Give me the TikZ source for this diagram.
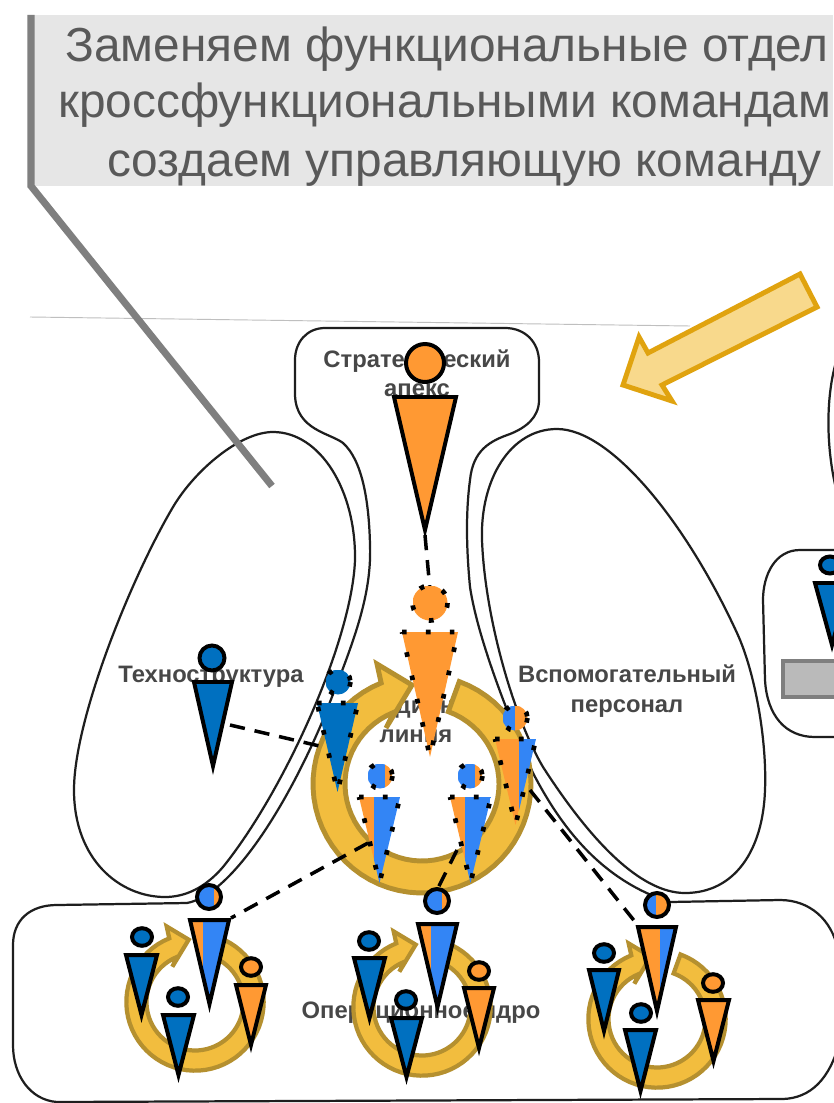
\documentclass[tikz,border=0pt]{standalone}
\usepackage{fontspec}
\setmainfont{Liberation Sans}
\usepackage{tikz}
\usetikzlibrary{arrows.meta,positioning,calc}
\usepackage{xcolor}
\definecolor{personorange}{RGB}{255,153,51}
\definecolor{personblue}{RGB}{0,112,192}
\definecolor{mixblue}{RGB}{51,133,245}
\definecolor{ringfill}{RGB}{242,189,62}
\definecolor{ringline}{RGB}{181,144,47}
\definecolor{hintfill}{RGB}{248,217,140}
\definecolor{hintline}{RGB}{224,163,15}
\definecolor{calloutgray}{RGB}{127,127,127}
\definecolor{calloutfill}{RGB}{230,230,230}
\definecolor{callouttext}{RGB}{89,89,89}
\definecolor{inkline}{RGB}{30,30,30}

\newcommand{\bodyfig}[9]{%
  \coordinate (#1-l) at (#2,#4);
  \coordinate (#1-r) at (#3,#4);
  \coordinate (#1-t) at ({(#2+#3)/2},#5);
  \begin{scope}
    \clip (#1-l) -- (#1-r) -- (#1-t) -- cycle;
    \fill[#7] (#2,#4) rectangle (#6,#5);
    \fill[#8] (#6,#4) rectangle (#3,#5);
  \end{scope}
  \draw[#9] (#1-l) -- (#1-r) -- (#1-t) -- cycle;
}
\newcommand{\headfig}[9]{%
  \coordinate (#1) at (#2,#3);
  \begin{scope}
    \clip (#1) ellipse [x radius=#4, y radius=#5];
    \fill[#7] (#2-#4,#3-#5) rectangle (#6,#3+#5);
    \fill[#8] (#6,#3-#5) rectangle (#2+#4,#3+#5);
  \end{scope}
  \draw[#9] (#1) ellipse [x radius=#4, y radius=#5];
}
\newcommand{\cyclering}[4]{%
  \begin{scope}[shift={(#1,#2)}, scale=#3]
    \draw[cyclearrow, line width=#4]
      plot[domain=-70:248, samples=60] (\x:109)
      -- (-45,-120) -- (-10,-99) -- (-36,-56) -- (-29,-70)
      -- plot[domain=248:-70, samples=60] (\x:77) -- cycle;
  \end{scope}
}

\begin{document}
\begin{tikzpicture}[
    x=0.03cm, y=-0.03cm,
    outline/.style={draw=inkline, line width=1.9pt},
    schemalabel/.style={font=\bfseries\fontsize{20.3}{25}\selectfont, text=black!72, align=center},
    calloutline/.style={font=\fontsize{40.8}{48}\selectfont, text=callouttext, anchor=base west, inner sep=0pt},
    cyclearrow/.style={fill=ringfill, draw=ringline, line join=miter},
    solidfig/.style={draw=black, line width=3.4pt},
    dotfig/.style={draw=black, line width=4pt, dash pattern=on 4pt off 16.4pt},
    linkline/.style={draw=black, line width=3pt, dash pattern=on 13pt off 8.5pt}
]
\useasboundingbox (0,0) rectangle (833,1103);
\fill[white] (0,0) rectangle (833,1103);

% Callout
\fill[calloutfill] (34,15) rectangle (833,186);
\coordinate (calltop) at (31,15);
\coordinate (callbend) at (31,186);
\coordinate (callend) at (272,486);
\node[calloutline] (call1) at (65,62) {Заменяем функциональные отдел};
\node[calloutline] (call2) at (58,118) {кроссфункциональными командам};
\node[calloutline] (call3) at (107,177) {создаем управляющую команду};

% Scanned scheme
\draw[black!25, line width=0.8pt] (30,317) -- (690,326);
\draw[outline] (325,328) -- (505,328) .. controls (525,328) and (539,342) .. (539,362)
  -- (539,400) .. controls (539,418) and (525,428) .. (510,434)
  .. controls (490,441) and (473,450) .. (470,480)
  .. controls (466,510) and (466,545) .. (470,587)
  .. controls (478,640) and (510,720) .. (533,773)
  .. controls (560,825) and (600,880) .. (670,902)
  -- (780,900) .. controls (810,900) and (832,920) .. (838,950)
  -- (840,1040) .. controls (830,1080) and (810,1098) .. (783,1099)
  -- (57,1102) .. controls (30,1100) and (13,1075) .. (13,1045)
  -- (13,945) .. controls (13,920) and (30,905) .. (57,905)
  -- (187,903) .. controls (230,895) and (285,810) .. (323,720)
  .. controls (350,650) and (372,600) .. (370,545)
  .. controls (369,500) and (362,460) .. (343,443)
  .. controls (330,433) and (296,430) .. (295,395)
  -- (295,360) .. controls (295,342) and (307,328) .. (325,328) -- cycle;
\draw[outline] (273,432) .. controls (320,432) and (356,490) .. (355,560)
  .. controls (352,640) and (285,790) .. (223,867)
  .. controls (205,888) and (185,897) .. (165,897)
  .. controls (120,897) and (74,860) .. (74,790)
  .. controls (74,720) and (130,580) .. (173,507)
  .. controls (195,470) and (240,432) .. (273,432) -- cycle;
\draw[outline] (557,429) .. controls (610,429) and (685,520) .. (737,633)
  .. controls (755,672) and (767,740) .. (765,790)
  .. controls (763,850) and (735,893) .. (685,893)
  .. controls (640,893) and (590,840) .. (543,767)
  .. controls (515,720) and (485,620) .. (482,540)
  .. controls (480,480) and (510,429) .. (557,429) -- cycle;
\draw[outline] (850,550) -- (800,550) .. controls (775,550) and (763,575) .. (763,600)
  -- (765,680) .. controls (767,715) and (785,737) .. (815,737) -- (850,737);
\draw[outline] (845,340) .. controls (825,375) and (822,450) .. (842,510);

\node[schemalabel] (apexlabel) at (417,373) {Стратегический\\апекс};
\node[schemalabel] (techlabel) at (211,677) {Техноструктура};
\node[schemalabel] (supportlabel) at (627,691) {Вспомогательный\\персонал};
\node[schemalabel] (midlabel) at (416,720) {Срединная\\линия};
\node[schemalabel] (corelabel) at (421,1013) {Операционное ядро};

\draw[calloutgray, line width=6pt] (calltop) -- (callbend) -- (callend);

% Hint arrow
\draw[fill=hintfill, draw=hintline, line width=4.2pt]
  (800,274) -- (817,307) -- (662,385) -- (672,401) -- (623,385) -- (639,337) -- (648,353) -- cycle;

% Rings
\cyclering{422}{784}{1}{4.2pt}
\cyclering{195}{1002}{0.63}{3.6pt}
\cyclering{422}{1007}{0.63}{3.6pt}
\cyclering{657}{1019}{0.63}{3.6pt}

% Links
\coordinate (techlinkA) at (230,725);
\coordinate (techlinkB) at (328,748);
\coordinate (midleftlink) at (368,843);
\coordinate (midrightlink) at (457,850);
\coordinate (sidelink) at (530,790);
\coordinate (core2link) at (438,888);
\coordinate (core3link) at (636,923);
\coordinate (core1link) at (231,918);
\coordinate (apexlink) at (425,535);
\coordinate (midlink) at (430,590);
\draw[linkline] (apexlink) -- (midlink);
\draw[linkline] (techlinkA) -- (techlinkB);
\draw[linkline] (midleftlink) -- (core1link);
\draw[linkline] (midrightlink) -- (core2link);
\draw[linkline] (sidelink) -- (core3link);

% Top and middle of the scheme
\headfig{apexhead}{425}{363}{19}{19}{450}{personorange}{personorange}{solidfig}
\bodyfig{apexbody}{394}{456}{397}{530}{460}{personorange}{personorange}{solidfig}
\headfig{techhead}{212}{658}{12.5}{12.5}{230}{personblue}{personblue}{solidfig}
\bodyfig{techbody}{194}{232}{682}{766}{240}{personblue}{personblue}{solidfig}
\headfig{sidebox}{830}{565}{10}{8.5}{845}{personblue}{personblue}{solidfig}
\bodyfig{sidefig}{815}{849}{583}{645}{855}{personblue}{personblue}{solidfig}
\draw[fill=black!27, draw=calloutgray, line width=3.2pt] (783,661) rectangle (840,697);

\headfig{midhead}{430}{603}{17.5}{17.5}{450}{personorange}{personorange}{dotfig}
\bodyfig{midbody}{402}{458}{632}{757}{460}{personorange}{personorange}{dotfig}
\headfig{mhead1}{338}{682}{12.5}{12.5}{352}{personblue}{personblue}{dotfig}
\bodyfig{mbody1}{317}{358}{703}{792}{360}{personblue}{personblue}{dotfig}
\headfig{mhead2}{380}{776}{12.5}{12.5}{385}{mixblue}{personorange}{dotfig}
\bodyfig{mbody2}{359}{400}{797}{883}{374}{personorange}{mixblue}{dotfig}
\headfig{mhead3}{470}{776}{12.5}{12.5}{475}{mixblue}{personorange}{dotfig}
\bodyfig{mbody3}{450}{491}{797}{883}{465}{personorange}{mixblue}{dotfig}
\headfig{mhead4}{515}{718}{12.5}{12.5}{515}{mixblue}{personorange}{dotfig}
\bodyfig{mbody4}{495}{536}{739}{825}{519}{personorange}{mixblue}{dotfig}

% Operating core, group 1
\headfig{ahead1}{142}{937}{10}{8.8}{160}{personblue}{personblue}{solidfig}
\bodyfig{abody1}{126}{157}{955}{1015}{165}{personblue}{personblue}{solidfig}
\headfig{ahead2}{178}{997}{10}{8.8}{195}{personblue}{personblue}{solidfig}
\bodyfig{abody2}{163}{194}{1015}{1075}{200}{personblue}{personblue}{solidfig}
\headfig{ahead3}{251}{967}{10}{8.8}{270}{personorange}{personorange}{solidfig}
\bodyfig{abody3}{236}{266}{985}{1045}{270}{personorange}{personorange}{solidfig}
\headfig{ahead4}{209}{897}{12}{12}{214}{mixblue}{personorange}{solidfig}
\bodyfig{abody4}{190}{229}{920}{1004}{203}{personorange}{mixblue}{solidfig}

% Operating core, group 2
\headfig{bhead1}{369}{941}{10}{8.8}{385}{personblue}{personblue}{solidfig}
\bodyfig{bbody1}{354}{385}{958}{1018}{390}{personblue}{personblue}{solidfig}
\headfig{bhead3}{479}{971}{10}{8.8}{495}{personorange}{personorange}{solidfig}
\bodyfig{bbody3}{464}{494}{988}{1048}{500}{personorange}{personorange}{solidfig}
\headfig{bhead4}{437}{901}{12}{12}{442}{mixblue}{personorange}{solidfig}
\bodyfig{bbody4}{418}{457}{924}{1007}{431}{personorange}{mixblue}{solidfig}
\headfig{bhead2}{406}{1000}{10}{8.8}{425}{personblue}{personblue}{solidfig}
\bodyfig{bbody2}{391}{422}{1018}{1077}{430}{personblue}{personblue}{solidfig}

% Operating core, group 3
\headfig{chead1}{604}{953}{10}{8.8}{620}{personblue}{personblue}{solidfig}
\bodyfig{cbody1}{589}{619}{970}{1031}{625}{personblue}{personblue}{solidfig}
\headfig{chead3}{713}{983}{10}{8.8}{730}{personorange}{personorange}{solidfig}
\bodyfig{cbody3}{698}{729}{1000}{1061}{735}{personorange}{personorange}{solidfig}
\headfig{chead4}{657}{905}{12}{12}{656}{mixblue}{personorange}{solidfig}
\bodyfig{cbody4}{638}{676}{927}{1011}{660}{personorange}{mixblue}{solidfig}
\headfig{chead2}{641}{1013}{10}{8.8}{660}{personblue}{personblue}{solidfig}
\bodyfig{cbody2}{625}{656}{1030}{1091}{660}{personblue}{personblue}{solidfig}
\end{tikzpicture}
\end{document}
